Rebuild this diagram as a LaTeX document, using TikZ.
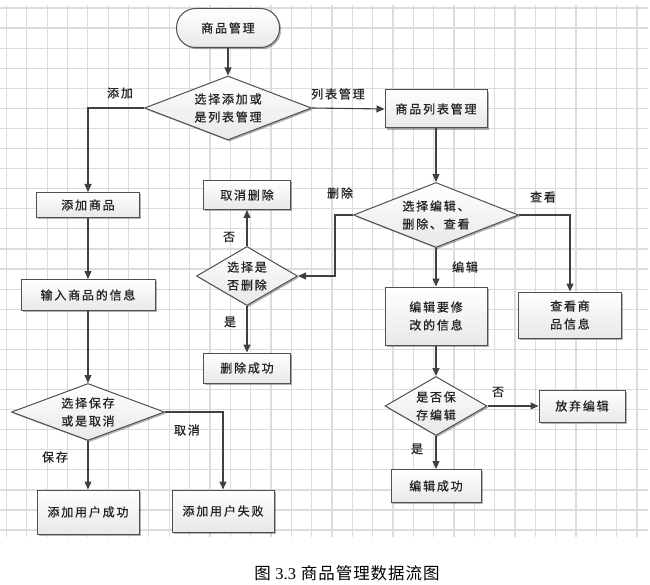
\documentclass[tikz,border=0pt]{standalone}
\usepackage{fontspec}
\setmainfont{Noto Sans CJK SC}
\newfontfamily\cjk[LetterSpace=15, FakeBold=0.8]{Noto Sans CJK SC}
\newfontfamily\capfont[LetterSpace=6]{Noto Sans CJK SC}
\newfontfamily\latinserif{Liberation Serif}
\usetikzlibrary{shapes.geometric,shadows,arrows.meta}
\definecolor{gridc}{RGB}{220,220,220}
\definecolor{linec}{RGB}{64,64,64}
\definecolor{borderc}{RGB}{80,80,80}
\definecolor{txtc}{RGB}{35,35,35}
\definecolor{fillb}{RGB}{232,232,232}
\tikzset{
  base/.style={draw=borderc, line width=1pt, top color=white, bottom color=fillb,
    drop shadow={shadow xshift=1.6pt, shadow yshift=-1.6pt, opacity=0.3, fill=black},
    font=\cjk\fontsize{12}{18}\selectfont, text=txtc, align=center, inner sep=0pt},
  procbox/.style={base, rectangle},
  termbox/.style={base, rectangle, rounded corners=19pt},
  decbox/.style={base, diamond},
  lbl/.style={font=\cjk\fontsize{12}{14}\selectfont, text=txtc, inner sep=0pt},
  conn/.style={draw=linec, line width=1.1pt, -{Triangle[length=8pt,width=7pt]}},
}
\begin{document}
\begin{tikzpicture}[x=1pt,y=-1pt]
\useasboundingbox (0,0) rectangle (650,585);
\fill[white] (0,0) rectangle (650,585);
% grid
\foreach \i in {0,...,31} \draw[gridc, line width=1.2pt] (6.5+20.34*\i,5) -- (6.5+20.34*\i,537);
\foreach \j in {0,...,26} \draw[gridc, line width=1.2pt] (0,8+20.08*\j) -- (648,8+20.08*\j);

% nodes
\node[termbox, minimum width=103pt, minimum height=39pt] (start) at (228,28) {商品管理};
\node[decbox, minimum width=167pt, minimum height=64pt, aspect=2.6] (d1) at (228,108) {选择添加或\\是列表管理};
\node[procbox, minimum width=102pt, minimum height=38pt] (list) at (436,109) {商品列表管理};
\node[decbox, minimum width=165pt, minimum height=65pt, aspect=2.54] (d2) at (436,215) {选择编辑、\\删除、查看};
\node[decbox, minimum width=101pt, minimum height=59pt, aspect=1.71] (d3) at (247,276) {选择是\\否删除};
\node[procbox, minimum width=87pt, minimum height=29pt] (cancel) at (247,195) {取消删除};
\node[procbox, minimum width=87pt, minimum height=30pt] (delok) at (247,368) {删除成功};
\node[procbox, minimum width=103pt, minimum height=46pt] (view) at (570,315) {查看商\\品信息};
\node[procbox, minimum width=102pt, minimum height=58pt] (edit) at (436,316) {编辑要修\\改的信息};
\node[decbox, minimum width=102pt, minimum height=59pt, aspect=1.73] (d4) at (436,406) {是否保\\存编辑};
\node[procbox, minimum width=86pt, minimum height=32pt] (abandon) at (582,406) {放弃编辑};
\node[procbox, minimum width=90pt, minimum height=33pt] (editok) at (436,486) {编辑成功};
\node[procbox, minimum width=103pt, minimum height=25pt] (add) at (88,205) {添加商品};
\node[procbox, minimum width=134pt, minimum height=31pt] (input) at (88,295) {输入商品的信息};
\node[decbox, minimum width=153pt, minimum height=57pt, aspect=2.68] (d5) at (88,412) {选择保存\\或是取消};
\node[procbox, minimum width=102pt, minimum height=44pt] (addok) at (88,512) {添加用户成功};
\node[procbox, minimum width=102pt, minimum height=42pt] (addfail) at (223,511) {添加用户失败};

% connectors
\draw[conn] (start) -- (d1);
\draw[conn] (d1.west) -| (add.north);
\draw[conn] (d1.east) -- (list.west);
\draw[conn] (list) -- (d2);
\draw[conn] (d2.west) -- ++(-18,0) |- (d3.east);
\draw[conn] (d3.north) -- (cancel.south);
\draw[conn] (d3.south) -- (delok.north);
\draw[conn] (d2.east) -| (view.north);
\draw[conn] (d2.south) -- (edit.north);
\draw[conn] (edit.south) -- (d4.north);
\draw[conn] (d4.east) -- (abandon.west);
\draw[conn] (d4.south) -- (editok.north);
\draw[conn] (add.south) -- (input.north);
\draw[conn] (input.south) -- (d5.north);
\draw[conn] (d5.south) -- (addok.north);
\draw[conn] (d5.east) -| (addfail.north);

% labels
\node[lbl] (l1) at (120,93) {添加};
\node[lbl] (l2) at (338,94) {列表管理};
\node[lbl] (l3) at (340,193) {删除};
\node[lbl] (l4) at (543,197) {查看};
\node[lbl] (l5) at (229,237) {否};
\node[lbl] (l6) at (230,322) {是};
\node[lbl] (l7) at (465,267) {编辑};
\node[lbl] (l8) at (498,392) {否};
\node[lbl] (l9) at (417,449) {是};
\node[lbl] (l10) at (55,457) {保存};
\node[lbl] (l11) at (187,430) {取消};

% caption
\node[font=\capfont\fontsize{16.5}{18}\selectfont, inner sep=0pt] (cap) at (347,573) {图 {\latinserif 3.3} 商品管理数据流图};
\end{tikzpicture}
\end{document}
